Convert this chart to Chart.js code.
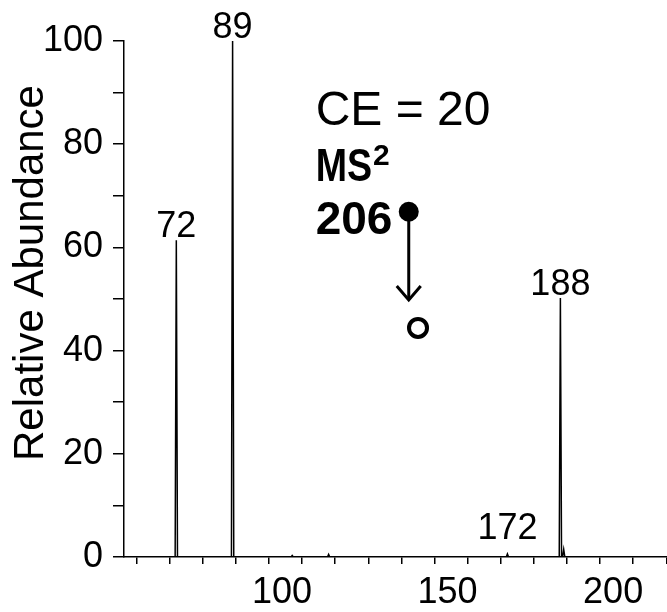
<!DOCTYPE html>
<html>
<head>
<meta charset="utf-8">
<script src="https://cdn.jsdelivr.net/npm/chart.js@4.4.0/dist/chart.umd.min.js"></script>
<style>
  body { margin: 0; background: #fff; }
</style>
</head>
<body>
<canvas id="chart" width="667" height="612"></canvas>
<script>
// peaks (m/z, relative abundance)
const peakMz = [72, 89, 107, 118, 172, 188, 189];
const peakIntensity = [61.4, 100, 0.3, 0.5, 0.6, 50.2, 1.5];
const labeledPeaks = [72, 89, 172, 188];
const xTickLabels = [100, 150, 200];
const yTickLabels = [0, 20, 40, 60, 80, 100];

const FONT = 'Liberation Sans, Arial, Helvetica, sans-serif';

// each stick goes up from the baseline and back down
const spectrum = [{ x: 56.2, y: 0 }];
peakMz.forEach((mz, i) => {
  spectrum.push({ x: mz - 0.35, y: 0 }, { x: mz, y: peakIntensity[i] }, { x: mz + 0.35, y: 0 });
});
spectrum.push({ x: 220.2, y: 0 });

const annotate = {
  id: 'annotate',
  afterDatasetsDraw(chart) {
    const { ctx } = chart;
    const xs = chart.scales.x;
    const ys = chart.scales.y;
    ctx.save();
    ctx.fillStyle = '#000';
    ctx.strokeStyle = '#000';

    // peak labels
    ctx.font = '36px ' + FONT;
    ctx.textAlign = 'center';
    ctx.textBaseline = 'alphabetic';
    labeledPeaks.forEach(mz => {
      const i = peakMz.indexOf(mz);
      const px = xs.getPixelForValue(mz);
      const py = ys.getPixelForValue(Math.max(peakIntensity[i], 3)) - 3;
      ctx.fillText(String(mz), px, py);
    });

    // text block
    ctx.textAlign = 'left';
    const tx = xs.getPixelForValue(114.1);
    ctx.font = '48px ' + FONT;
    ctx.fillText('CE = 20', tx, ys.getPixelForValue(83.7));

    // "MS" is set a little narrower in the original
    const msY = ys.getPixelForValue(72.8);
    ctx.font = 'bold 47px ' + FONT;
    const msW = ctx.measureText('MS').width * 0.8;
    ctx.save();
    ctx.translate(tx, msY);
    ctx.scale(0.8, 1);
    ctx.fillText('MS', 0, 0);
    ctx.restore();
    ctx.font = 'bold 30px ' + FONT;
    ctx.fillText('2', tx + msW + 1, msY - 16);
    ctx.font = 'bold 46px ' + FONT;
    ctx.fillText('206', tx, ys.getPixelForValue(62.6));

    // precursor -> product arrow
    const cx = xs.getPixelForValue(142.2);
    const cy = ys.getPixelForValue(66.9);
    const tipY = ys.getPixelForValue(49.8);
    ctx.beginPath();
    ctx.arc(cx, cy, 10, 0, Math.PI * 2);
    ctx.fill();
    ctx.lineWidth = 3;
    ctx.beginPath();
    ctx.moveTo(cx, cy);
    ctx.lineTo(cx, tipY);
    ctx.stroke();
    ctx.beginPath();
    ctx.moveTo(cx - 12, tipY - 14);
    ctx.lineTo(cx, tipY);
    ctx.lineTo(cx + 12, tipY - 14);
    ctx.stroke();
    ctx.lineWidth = 4;
    ctx.beginPath();
    ctx.arc(xs.getPixelForValue(145.0), ys.getPixelForValue(44.4), 9, 0, Math.PI * 2);
    ctx.stroke();

    // y axis title
    ctx.font = '42px ' + FONT;
    ctx.textAlign = 'center';
    ctx.textBaseline = 'middle';
    ctx.translate(31, 273);
    ctx.rotate(-Math.PI / 2);
    ctx.fillText('Relative Abundance', 0, 0);
    ctx.restore();
  }
};

new Chart(document.getElementById('chart'), {
  type: 'line',
  data: {
    datasets: [{
      data: spectrum,
      borderColor: '#000',
      borderWidth: 1.5,
      pointRadius: 0,
      tension: 0,
      fill: false
    }]
  },
  options: {
    responsive: false,
    animation: false,
    layout: { padding: { top: 41, right: 0, left: 0, bottom: 0 } },
    plugins: { legend: { display: false }, tooltip: { enabled: false } },
    scales: {
      x: {
        type: 'linear',
        min: 56.2,
        max: 220.2,
        border: { color: '#000', width: 1.5 },
        grid: { drawOnChartArea: false, tickLength: 7, color: '#000', lineWidth: 1.5 },
        ticks: {
          stepSize: 10,
          includeBounds: false,
          autoSkip: false,
          maxRotation: 0,
          labelOffset: 13,
          padding: 0,
          color: '#000',
          font: { family: FONT, size: 36, lineHeight: 1.64 },
          callback: v => xTickLabels.includes(v) ? String(v) : ''
        },
        afterFit: s => { s.height = 55; }
      },
      y: {
        min: 0,
        max: 100,
        border: { color: '#000', width: 1.5 },
        grid: { drawOnChartArea: false, tickLength: 11, color: '#000', lineWidth: 1.5 },
        ticks: {
          stepSize: 10,
          autoSkip: false,
          padding: 10,
          color: '#000',
          font: { family: FONT, size: 36 },
          callback: v => yTickLabels.includes(v) ? String(v) : ''
        },
        afterFit: s => { s.width = 124; }
      }
    }
  },
  plugins: [annotate]
});
</script>
</body>
</html>
